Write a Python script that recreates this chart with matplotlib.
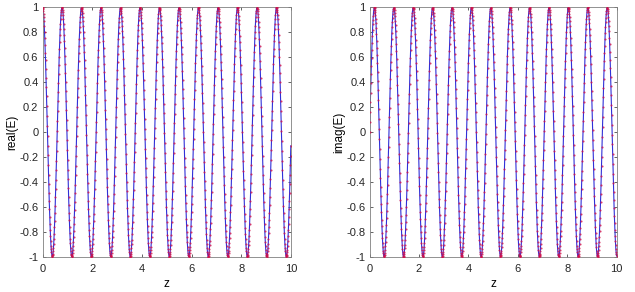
import numpy as np
import matplotlib
matplotlib.use("Agg")
import matplotlib.pyplot as plt

plt.rcParams["font.family"] = ["Liberation Sans", "DejaVu Sans"]

# plane wave E = exp(i*k*z), sampled like the original
k = 8.0            # wavenumber
z_start, z_stop, dz = 0.0, 10.0, 0.01
z = np.arange(z_start, z_stop + dz / 2, dz)
E = np.exp(1j * k * z)

xticks = [0, 2, 4, 6, 8, 10]
yticks = np.round(np.arange(-1, 1.01, 0.2), 1)
panels = [("real(E)", E.real), ("imag(E)", E.imag)]

fig = plt.figure(figsize=(6.35, 2.92), dpi=100)
boxes = [[0.067, 0.121, 0.391, 0.854], [0.582, 0.121, 0.389, 0.854]]

for box, (lab, vals) in zip(boxes, panels):
    ax = fig.add_axes(box)
    ax.plot(z, vals, "-", color="#3030d8", lw=0.8, zorder=2)
    ax.plot(z, vals, ".", color="#d0104a", ms=3.0, mew=0, alpha=0.8, zorder=3)
    ax.set_xlim(0, 10)
    ax.set_ylim(-1, 1)
    ax.set_xticks(xticks)
    ax.set_yticks(yticks)
    ax.set_yticklabels([("%g" % v) if v != 0 else "0" for v in yticks])
    ax.set_xlabel("z", fontsize=8.5, labelpad=3)
    ax.set_ylabel(lab, fontsize=8.5, labelpad=1)
    ax.tick_params(direction="in", length=2.5, width=0.5, labelsize=8,
                   colors="#262626", top=True, right=True)
    ax.tick_params(axis="x", pad=5)
    ax.tick_params(axis="y", pad=3)
    for s in ax.spines.values():
        s.set_color("#808080")
        s.set_linewidth(0.6)

fig.savefig("out.png", dpi=100)
